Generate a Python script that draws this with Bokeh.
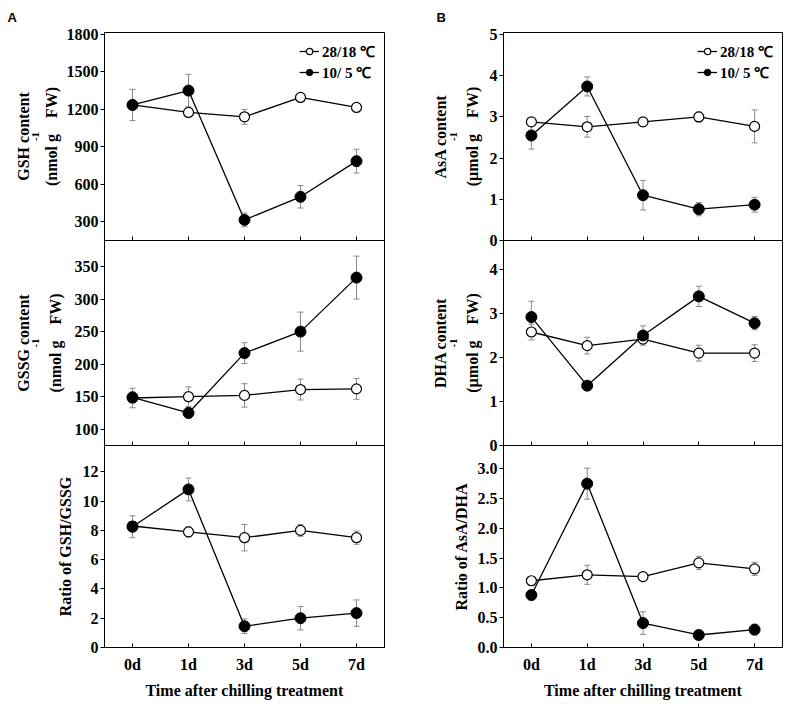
from bokeh.plotting import figure
from bokeh.models import (Range1d, FixedTicker, Whisker, ColumnDataSource, Title,
                          Legend, LegendItem, TeeHead)
from bokeh.layouts import row, column
from bokeh.embed import file_html
from bokeh.resources import INLINE

# ---------------- data ----------------
days = ["0d", "1d", "3d", "5d", "7d"]
series_labels = ["28/18 ℃", "10/ 5 ℃"]
x_title = "Time after chilling treatment"

gsh_ctrl = [1235, 1175, 1140, 1295, 1215]
gsh_ctrl_err = [25, 20, 60, 20, 18]
gsh_chill = [1235, 1350, 315, 500, 785]
gsh_chill_err = [125, 130, 55, 90, 95]

gssg_ctrl = [148, 150, 152, 161, 162]
gssg_ctrl_err = [15, 15, 18, 16, 16]
gssg_chill = [149, 125, 217, 250, 333]
gssg_chill_err = [8, 8, 16, 30, 33]

gr_ctrl = [8.3, 7.9, 7.5, 8.0, 7.5]
gr_ctrl_err = [0.3, 0.35, 0.9, 0.4, 0.45]
gr_chill = [8.25, 10.8, 1.45, 2.0, 2.35]
gr_chill_err = [0.75, 0.78, 0.5, 0.8, 0.9]

asa_ctrl = [2.88, 2.76, 2.88, 3.0, 2.77]
asa_ctrl_err = [0.05, 0.25, 0.1, 0.12, 0.4]
asa_chill = [2.55, 3.74, 1.10, 0.76, 0.87]
asa_chill_err = [0.33, 0.23, 0.36, 0.16, 0.18]

dha_ctrl = [2.58, 2.27, 2.42, 2.10, 2.10]
dha_ctrl_err = [0.18, 0.19, 0.1, 0.18, 0.19]
dha_chill = [2.92, 1.36, 2.5, 3.39, 2.78]
dha_chill_err = [0.36, 0.07, 0.22, 0.23, 0.15]

ar_ctrl = [1.12, 1.22, 1.19, 1.42, 1.32]
ar_ctrl_err = [0.07, 0.16, 0.07, 0.11, 0.11]
ar_chill = [0.88, 2.75, 0.41, 0.21, 0.30]
ar_chill_err = [0.08, 0.26, 0.19, 0.06, 0.09]

gsh_ticks = [300, 600, 900, 1200, 1500, 1800]
gssg_ticks = [100, 150, 200, 250, 300, 350]
gr_ticks = [0, 2, 4, 6, 8, 10, 12]
asa_ticks = [0, 1, 2, 3, 4, 5]
dha_ticks = [0, 1, 2, 3, 4]
ar_ticks = [0, 0.5, 1.0, 1.5, 2.0, 2.5, 3.0]

# ---------------- styling ----------------
SERIF = "Liberation Serif"
FS = "16px"
ERR_COLOR = "#8a8a8a"
XR = (-0.5, 4.5)
OVER = 8            # overlap between stacked panels (lets boundary tick labels show)
GAP = "\u00a0" * 4


def make_panel(fw, fh, bl, br, bt, bb, yr, yticks, ctrl, ctrl_err, chill, chill_err,
               bottom=False, legend=False, fmt=None, stacked=False):
    p = figure(width=bl + fw + br, height=bt + fh + bb,
               x_range=Range1d(*XR), y_range=Range1d(*yr),
               output_backend="svg", toolbar_location=None,
               min_border_left=bl, min_border_right=br,
               min_border_top=bt, min_border_bottom=bb)
    p.grid.visible = False
    p.outline_line_color = "black"
    p.outline_line_width = 1
    if stacked:
        p.background_fill_alpha = 0
        p.border_fill_alpha = 0
        p.margin = (-OVER, 0, 0, 0)
    else:
        p.background_fill_color = "white"
        p.border_fill_color = "white"

    x = list(range(len(days)))

    for vals, errs in ((ctrl, ctrl_err), (chill, chill_err)):
        src = ColumnDataSource(dict(x=x, lo=[v - e for v, e in zip(vals, errs)],
                                    hi=[v + e for v, e in zip(vals, errs)]))
        w = Whisker(base="x", lower="lo", upper="hi", source=src,
                    line_color=ERR_COLOR, line_width=1, level="underlay",
                    upper_head=TeeHead(size=6, line_color=ERR_COLOR, line_width=1),
                    lower_head=TeeHead(size=6, line_color=ERR_COLOR, line_width=1))
        p.add_layout(w)

    l1 = p.line(x, ctrl, line_color="black", line_width=1.3)
    s1 = p.scatter(x, ctrl, marker="circle", size=10, fill_color="white",
                   line_color="black", line_width=1.2)
    l2 = p.line(x, chill, line_color="black", line_width=1.3)
    s2 = p.scatter(x, chill, marker="circle", size=11, fill_color="black",
                   line_color="black", line_width=1)

    yax = p.yaxis[0]
    yax.ticker = FixedTicker(ticks=yticks)
    yax.minor_tick_line_color = None
    yax.major_tick_out = 4
    yax.major_tick_in = 0
    yax.major_label_standoff = 2
    yax.major_label_text_font = SERIF
    yax.major_label_text_font_style = "bold"
    yax.major_label_text_font_size = FS
    yax.major_label_text_color = "black"
    yax.axis_line_color = "black"
    if fmt:
        yax.major_label_overrides = {t: fmt.format(t) for t in yticks}

    xax = p.xaxis[0]
    xax.ticker = FixedTicker(ticks=x)
    xax.minor_tick_line_color = None
    xax.major_tick_in = 4
    xax.major_tick_out = 0
    xax.axis_line_color = "black"
    if bottom:
        xax.major_label_overrides = {i: d for i, d in enumerate(days)}
        xax.major_label_text_font = SERIF
        xax.major_label_text_font_style = "bold"
        xax.major_label_text_font_size = FS
        xax.major_label_text_color = "black"
        xax.major_label_standoff = 8
        xax.axis_label = x_title
        xax.axis_label_text_font = SERIF
        xax.axis_label_text_font_style = "bold"
        xax.axis_label_text_font_size = FS
        xax.axis_label_text_color = "black"
        xax.axis_label_standoff = 6
    else:
        xax.major_label_overrides = {i: "" for i in x}
        xax.major_label_text_font_size = "1px"
        xax.major_label_standoff = 0

    if legend:
        lg = Legend(items=[LegendItem(label=series_labels[0], renderers=[l1, s1]),
                           LegendItem(label=series_labels[1], renderers=[l2, s2])],
                    location="top_right")
        lg.label_text_font = SERIF
        lg.label_text_font_style = "bold"
        lg.label_text_font_size = "15px"
        lg.label_text_color = "black"
        lg.border_line_color = None
        lg.background_fill_alpha = 0
        lg.glyph_width = 20
        lg.glyph_height = 16
        lg.label_height = 17
        lg.label_standoff = 3
        lg.spacing = 1
        lg.padding = 5
        lg.margin = 9
        p.add_layout(lg)
    return p


def side_title(p, text, standoff, offset=0, size=FS):
    p.add_layout(Title(text=text, align="center", offset=offset, standoff=standoff,
                       text_font=SERIF, text_font_style="bold",
                       text_font_size=size, text_color="black"), "left")


def two_line_title(p, line1, unit_a, unit_b, s2, ssup, s1):
    # line next to the axis carries the unit, with room for the superscript
    side_title(p, unit_a + GAP + unit_b, s2)
    side_title(p, "-1", ssup, offset=9, size="11px")
    side_title(p, line1, s1)


def panel_letter(p, text, offset):
    p.title.text = text
    p.title.align = "left"
    p.title.offset = offset
    p.title.standoff = 15
    p.title.text_font = "Liberation Sans"
    p.title.text_font_style = "bold"
    p.title.text_font_size = "13px"
    p.title.text_color = "black"


# ---------------- layout ----------------
LW, LBL, LBR = 280, 104, 11
RW, RBL, RBR = 279, 108, 4
TOP_H, MID_H, BOT_H = 210, 205, 208
TOP_B, BOT_B = 30, 48

pA1 = make_panel(LW, TOP_H, LBL, LBR, TOP_B, OVER, (150, 1815), gsh_ticks,
                 gsh_ctrl, gsh_ctrl_err, gsh_chill, gsh_chill_err, legend=True)
pA2 = make_panel(LW, MID_H, LBL, LBR, 0, OVER, (75, 390), gssg_ticks,
                 gssg_ctrl, gssg_ctrl_err, gssg_chill, gssg_chill_err, stacked=True)
pA3 = make_panel(LW, BOT_H, LBL, LBR, 0, BOT_B, (0, 13.8), gr_ticks,
                 gr_ctrl, gr_ctrl_err, gr_chill, gr_chill_err, bottom=True, stacked=True)

pB1 = make_panel(RW, TOP_H, RBL, RBR, TOP_B, OVER, (0, 5.05), asa_ticks,
                 asa_ctrl, asa_ctrl_err, asa_chill, asa_chill_err, legend=True)
pB2 = make_panel(RW, MID_H, RBL, RBR, 0, OVER, (0, 4.66), dha_ticks,
                 dha_ctrl, dha_ctrl_err, dha_chill, dha_chill_err, stacked=True)
pB3 = make_panel(RW, BOT_H, RBL, RBR, 0, BOT_B, (0, 3.39), ar_ticks,
                 ar_ctrl, ar_ctrl_err, ar_chill, ar_chill_err, bottom=True,
                 fmt="{:.1f}", stacked=True)

two_line_title(pA1, "GSH content", "(nmol g", "FW)", 7, -2, -2)
two_line_title(pA2, "GSSG content", "(nmol g", "FW)", 15, -2, -2)
side_title(pA3, "Ratio of GSH/GSSG", 12)

two_line_title(pB1, "AsA content", "(µmol g", "FW)", 12, -2, -1)
two_line_title(pB2, "DHA content", "(µmol g", "FW)", 12, -2, -1)
side_title(pB3, "Ratio of AsA/DHA", 10)

panel_letter(pA1, "A", -97)
panel_letter(pB1, "B", -67)

layout = row(column(pA1, pA2, pA3), column(pB1, pB2, pB3))

open("out.html", "w").write(file_html(layout, INLINE))
